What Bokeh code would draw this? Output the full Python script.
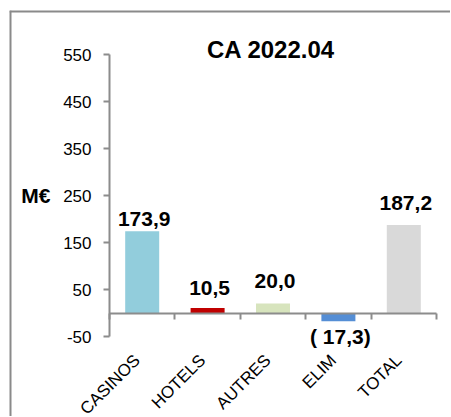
from bokeh.plotting import figure
from bokeh.models import (Range1d, LinearAxis, FixedTicker, ColumnDataSource,
                          LabelSet, Label, Span)
from bokeh.core.properties import value
from bokeh.embed import file_html
from bokeh.resources import INLINE
import math

# ---- data ----
categories = ["CASINOS", "HOTELS", "AUTRES", "ELIM", "TOTAL"]
values = [173.9, 10.5, 20.0, -17.3, 187.2]
y_ticks = [-50, 50, 150, 250, 350, 450, 550]
title_text = "CA 2022.04"
unit_label = "M€"

# ---- style / layout ----
colors = ["#92CDDC", "#C00000", "#D7E4BD", "#558ED5", "#D9D9D9"]
label_lift = [5, 13, 16, -4, 15]   # px between bar end and its label
FONT = "Liberation Sans"
AXIS_COLOR = "#8c8c8c"
BORDER_COLOR = "#8a8a8a"
FIG_W, FIG_H = 450, 416
BORDER_LEFT, BORDER_TOP = 9, 10     # outer chart border position
CAT_PX = 65.4                       # width of one category slot
AXIS_SPAN_PX = 282                  # pixel height of the -50..550 axis
PLOT_LEFT = 100                     # from chart border to the value axis
PLOT_TOP = 44                       # from chart border to the top tick
LABEL_SHIFT_PX = 5                  # category labels sit a bit left


def fmt(v):
    s = f"{abs(v):.1f}".replace(".", ",")
    return s if v >= 0 else f"( {s})"


n = len(categories)
centers = [i + 0.5 for i in range(n)]
y_lo, y_hi = y_ticks[0], y_ticks[-1]
ppu = AXIS_SPAN_PX / (y_hi - y_lo)
frame_w = FIG_W - BORDER_LEFT
frame_h = FIG_H - BORDER_TOP
x_min = -PLOT_LEFT / CAT_PX
x_max = x_min + frame_w / CAT_PX
y_max = y_hi + PLOT_TOP / ppu
y_min = y_max - frame_h / ppu

src = ColumnDataSource(dict(
    x=centers,
    val=values,
    color=colors,
    label=[fmt(v) for v in values],
    lift=label_lift,
    baseline=["bottom" if v >= 0 else "top" for v in values],
))

p = figure(width=FIG_W, height=FIG_H, title=None,
           x_range=Range1d(x_min, x_max),
           y_range=Range1d(y_min, y_max),
           output_backend="svg", toolbar_location=None,
           x_axis_location=None, y_axis_location=None,
           min_border_left=BORDER_LEFT, min_border_top=BORDER_TOP,
           min_border_right=0, min_border_bottom=0)
p.outline_line_color = None
p.background_fill_color = "white"
p.border_fill_color = "white"
p.xgrid.grid_line_color = None
p.ygrid.grid_line_color = None
d = LABEL_SHIFT_PX / CAT_PX
p.extra_x_ranges = {"labels": Range1d(x_min + d, x_max + d)}

# outer chart border (left and top edges of the plot area)
p.add_layout(Span(location=x_min, dimension="height",
                  line_color=BORDER_COLOR, line_width=4))
p.add_layout(Span(location=y_max, dimension="width",
                  line_color=BORDER_COLOR, line_width=4))

# title
p.add_layout(Label(x=n / 2, y=y_hi, text=title_text, x_offset=-2, y_offset=5,
                   text_align="center", text_baseline="alphabetic",
                   text_font=FONT, text_font_size="24px",
                   text_font_style="bold", text_color="black"))

p.vbar(x="x", top="val", bottom=0, width=0.52, fill_color="color",
       line_color=None, source=src)

labels = LabelSet(x="x", y="val", text="label", source=src,
                  x_offset=2, y_offset="lift", text_align="center",
                  text_baseline="baseline", text_font=value(FONT),
                  text_font_size="21px", text_font_style="bold",
                  text_color="black")
p.add_layout(labels)

# value axis (line limited to the tick span)
yaxis = LinearAxis(ticker=FixedTicker(ticks=y_ticks), bounds=(y_lo, y_hi),
                   fixed_location=0,
                   major_label_overrides={t: str(t) for t in y_ticks})
yaxis.major_label_text_font = FONT
yaxis.major_label_text_font_size = "17px"
yaxis.major_label_text_color = "black"
yaxis.major_label_standoff = 12
yaxis.axis_line_color = AXIS_COLOR
yaxis.axis_line_width = 2
yaxis.major_tick_line_color = AXIS_COLOR
yaxis.major_tick_line_width = 2
yaxis.major_tick_in = 0
yaxis.major_tick_out = 6
yaxis.minor_tick_line_color = None
p.add_layout(yaxis, "left")

# unit label "M€" beside the middle tick
mid = (y_lo + y_hi) / 2
uaxis = LinearAxis(ticker=FixedTicker(ticks=[mid]), fixed_location=0,
                   major_label_overrides={mid: unit_label})
uaxis.axis_line_color = None
uaxis.major_tick_line_color = None
uaxis.minor_tick_line_color = None
uaxis.major_tick_in = 0
uaxis.major_tick_out = 0
uaxis.major_label_standoff = 59
uaxis.major_label_text_font = FONT
uaxis.major_label_text_font_size = "21px"
uaxis.major_label_text_font_style = "bold"
uaxis.major_label_text_color = "black"
p.add_layout(uaxis, "left")

# zero-line axis with ticks between categories
zaxis = LinearAxis(fixed_location=0, bounds=(0, n),
                   ticker=FixedTicker(ticks=list(range(n + 1))))
zaxis.axis_line_color = AXIS_COLOR
zaxis.axis_line_width = 2
zaxis.major_tick_line_color = AXIS_COLOR
zaxis.major_tick_line_width = 2
zaxis.major_tick_in = 0
zaxis.major_tick_out = 6
zaxis.minor_tick_line_color = None
zaxis.major_label_text_alpha = 0
zaxis.major_label_text_font_size = "1px"
p.add_layout(zaxis, "below")

# category labels under the -50 level
xaxis = LinearAxis(ticker=FixedTicker(ticks=centers), fixed_location=y_lo,
                   x_range_name="labels",
                   major_label_overrides={c: name for c, name in zip(centers, categories)})
xaxis.axis_line_color = None
xaxis.major_tick_line_color = None
xaxis.minor_tick_line_color = None
xaxis.major_tick_in = 0
xaxis.major_tick_out = 0
xaxis.major_label_orientation = math.pi / 4
xaxis.major_label_text_font = FONT
xaxis.major_label_text_font_size = "17px"
xaxis.major_label_text_color = "black"
xaxis.major_label_standoff = 21
p.add_layout(xaxis, "below")

open("out.html", "w").write(file_html(p, INLINE))
